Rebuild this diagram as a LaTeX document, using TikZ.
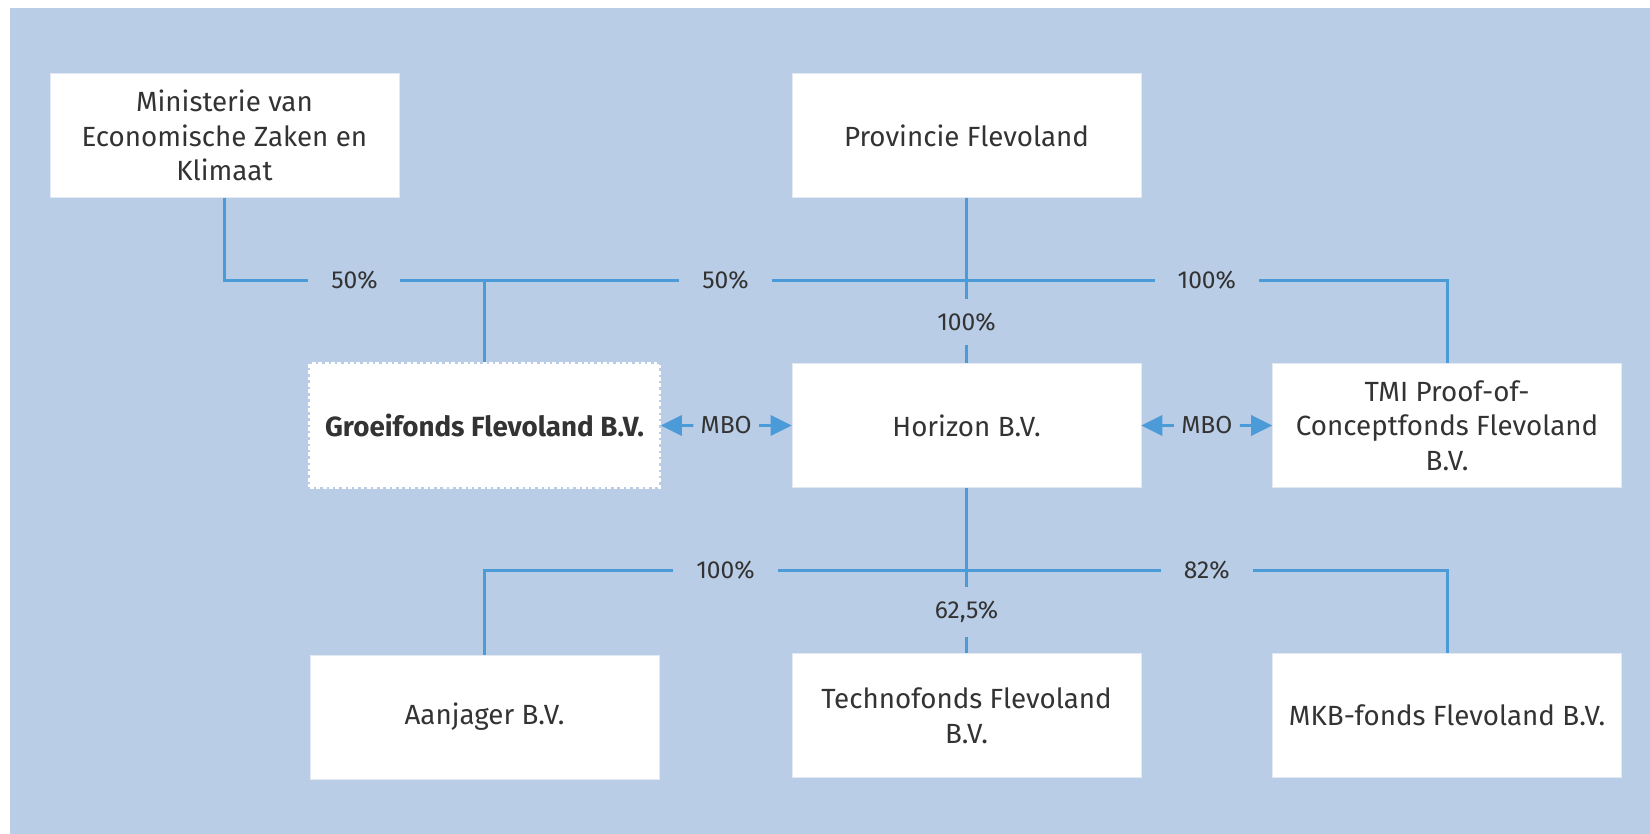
\documentclass[tikz,border=0pt]{standalone}
\usepackage{fontspec}
\setmainfont{Fira Sans}
\usetikzlibrary{positioning,arrows.meta,calc}
\definecolor{bgblue}{RGB}{185,205,230}
\definecolor{lineblue}{RGB}{74,155,215}
\definecolor{txtgray}{RGB}{51,51,51}
\definecolor{rimgray}{RGB}{226,233,243}

\begin{document}
\begin{tikzpicture}[x=0.02cm, y=-0.02cm,
	entity/.style={fill=white, draw=rimgray, line width=0.4pt, minimum width=6.98cm, minimum height=2.48cm, align=center, text=txtgray, font=\fontsize{15.8}{19.5}\selectfont},
	link/.style={draw=lineblue, line width=1.7pt},
	share/.style={fill=bgblue, text=txtgray, inner xsep=13pt, inner ysep=8pt, font=\fontsize{14}{16}\selectfont},
	mbo/.style={link, -{Triangle[length=12pt, width=11.5pt]}},
	node distance=3.31cm and 2.62cm]
	\fill[bgblue] (10,8) rectangle (1650,834);
	\useasboundingbox (0,0) rectangle (1650,834);

	\node[entity] (hor) at (966.5,425.5) {Horizon B.V.};
	\node[entity, above=of hor] (prov) {Provincie Flevoland};
	\node[entity, left=7.85cm of prov] (min) {Ministerie van\\Economische Zaken en\\Klimaat};
	\node[entity, left=of hor, draw=white, line width=2pt, dash pattern=on 2.2pt off 1.4pt, font=\fontsize{15.8}{19.5}\selectfont\bfseries] (groei) {Groeifonds Flevoland B.V.};
	\node[entity, right=of hor] (tmi) {TMI Proof-of-\\Conceptfonds Flevoland\\B.V.};
	\node[entity, below=of hor] (techno) {Technofonds Flevoland\\B.V.};
	\node[entity, below=of groei] (aan) {Aanjager B.V.};
	\node[entity, below=of tmi] (mkb) {MKB-fonds Flevoland B.V.};

	\coordinate (topbus) at ($(prov.south)!.5!(hor.north)$);
	\coordinate (lowbus) at ($(hor.south)!.5!(techno.north)$);

	\draw[link] (min.south) |- (topbus) -| (tmi.north);
	\draw[link] (groei.north) -- (groei.north |- topbus);
	\draw[link] (prov.south) -- (hor.north);
	\draw[link] (aan.north) |- (lowbus) -| (mkb.north);
	\draw[link] (hor.south) -- (techno.north);

	\node[share] (s1) at ($(min.south |- topbus)!.5!(groei.north |- topbus)$) {50\%};
	\node[share] (s2) at ($(groei.north |- topbus)!.5!(topbus)$) {50\%};
	\node[share] (s3) at ($(topbus)!.5!(tmi.north |- topbus)$) {100\%};
	\node[share] (s4) at ($(topbus)!.5!(hor.north)$) {100\%};
	\node[share] (s5) at ($(aan.north |- lowbus)!.5!(lowbus)$) {100\%};
	\node[share] (s6) at ($(lowbus)!.5!(mkb.north |- lowbus)$) {82\%};
	\node[share] (s7) at ($(lowbus)!.5!(techno.north)$) {62,5\%};

	\node[share, inner xsep=4pt] (m1) at ($(groei.east)!.5!(hor.west)$) {MBO};
	\node[share, inner xsep=4pt] (m2) at ($(hor.east)!.5!(tmi.west)$) {MBO};
	\draw[mbo] (m1.west) -- (groei.east);
	\draw[mbo] (m1.east) -- (hor.west);
	\draw[mbo] (m2.west) -- (hor.east);
	\draw[mbo] (m2.east) -- (tmi.west);
\end{tikzpicture}
\end{document}
